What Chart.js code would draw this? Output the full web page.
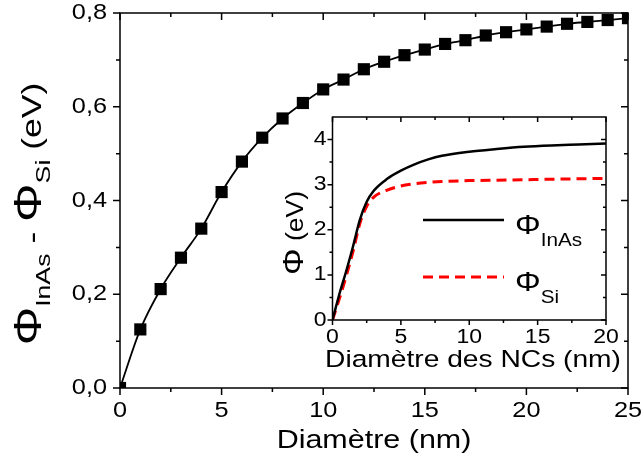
<!DOCTYPE html>
<html>
<head>
<meta charset="utf-8">
<script src="https://cdn.jsdelivr.net/npm/chart.js@4.4.0/dist/chart.umd.min.js"></script>
<style>
  body { margin: 0; background: #fff; }
  #wrap { position: relative; width: 642px; height: 474px; }
  canvas { position: absolute; }
</style>
</head>
<body>
<div id="wrap">
  <canvas id="main" width="642" height="474" style="left:0;top:0;width:642px;height:474px"></canvas>
  <canvas id="inset" width="366" height="280" style="left:260px;top:100px;width:366px;height:280px"></canvas>
</div>
<script>
// main plot: difference of work functions vs diameter
const diam = [0, 1, 2, 3, 4, 5, 6, 7, 8, 9, 10, 11, 12, 13, 14, 15, 16, 17, 18, 19, 20, 21, 22, 23, 24, 25];
const deltaPhi = [0, 0.125, 0.211, 0.278, 0.340, 0.418, 0.483, 0.534, 0.575, 0.608, 0.637, 0.658, 0.680, 0.696,
  0.710, 0.722, 0.734, 0.742, 0.752, 0.759, 0.765, 0.771, 0.777, 0.781, 0.785, 0.789];
const mainXTicks = [0, 5, 10, 15, 20, 25];
const mainXMinor = [2.5, 7.5, 12.5, 17.5, 22.5];
const mainYTicks = [0, 0.2, 0.4, 0.6, 0.8];
const mainYMinor = [0.1, 0.3, 0.5, 0.7];

// inset: both work functions vs NC diameter
const insetDiam = [0, 0.5, 1, 1.5, 2, 2.5, 3, 4, 5, 6, 7, 8, 10, 12, 14, 16, 18, 20];
const phiInAs = [0, 0.57, 1.08, 1.63, 2.22, 2.62, 2.86, 3.13, 3.31, 3.45, 3.56, 3.64, 3.73, 3.79, 3.84, 3.87, 3.89, 3.91];
const phiSi = [0, 0.47, 0.97, 1.52, 2.14, 2.52, 2.72, 2.88, 2.97, 3.02, 3.05, 3.07, 3.09, 3.10, 3.11, 3.12, 3.13, 3.14];
const insetXTicks = [0, 5, 10, 15, 20];
const insetXMinor = [2.5, 7.5, 12.5, 17.5];
const insetYTicks = [0, 1, 2, 3, 4];
const insetYMinor = [0.5, 1.5, 2.5, 3.5];

const SX = 1.15; // the original lettering is wider than plain Arial
const FONT = '"Liberation Sans", Arial, sans-serif';

// text made of pieces (for subscripts); stretched along the writing direction
function richText(ctx, parts, x, y, rot, align, stretch) {
  ctx.save();
  ctx.translate(x, y);
  if (rot) ctx.rotate(-Math.PI / 2);
  ctx.scale(stretch || SX, 1);
  ctx.fillStyle = '#000';
  ctx.textBaseline = 'alphabetic';
  ctx.textAlign = 'left';
  let w = 0;
  parts.forEach(p => { ctx.font = p.size + 'px ' + FONT; p.w = ctx.measureText(p.s).width; w += p.w; });
  let cx = align === 'left' ? 0 : align === 'right' ? -w : -w / 2;
  parts.forEach(p => { ctx.font = p.size + 'px ' + FONT; ctx.fillText(p.s, cx, p.dy || 0); cx += p.w; });
  ctx.restore();
}

function label(ctx, s, x, y, size, align) {
  ctx.save();
  ctx.translate(x, y);
  ctx.scale(SX, 1);
  ctx.font = size + 'px ' + FONT;
  ctx.fillStyle = '#000';
  ctx.textAlign = align;
  ctx.textBaseline = 'middle';
  ctx.fillText(s, 0, 0);
  ctx.restore();
}

// frame, ticks and texts: bottom/left ticks point out, top/right ticks point in
function axesPlugin(cfg) {
  return {
    id: 'axesFrame',
    afterDraw(chart) {
      const { ctx, chartArea: a, scales: { x, y } } = chart;
      ctx.save();
      ctx.strokeStyle = '#000';
      ctx.lineWidth = cfg.lw;
      ctx.strokeRect(a.left, a.top, a.right - a.left, a.bottom - a.top);
      ctx.beginPath();
      const tx = (v, len) => {
        const px = x.getPixelForValue(v);
        ctx.moveTo(px, a.bottom); ctx.lineTo(px, a.bottom + len);
        ctx.moveTo(px, a.top); ctx.lineTo(px, a.top + len);
      };
      const ty = (v, len) => {
        const py = y.getPixelForValue(v);
        ctx.moveTo(a.left, py); ctx.lineTo(a.left - len, py);
        ctx.moveTo(a.right, py); ctx.lineTo(a.right - len, py);
      };
      cfg.xTicks.forEach(v => tx(v, cfg.major));
      cfg.xMinor.forEach(v => tx(v, cfg.minor));
      cfg.yTicks.forEach(v => ty(v, cfg.major));
      cfg.yMinor.forEach(v => ty(v, cfg.minor));
      ctx.stroke();
      ctx.restore();

      cfg.xTicks.forEach(v => label(ctx, cfg.fmtX(v), x.getPixelForValue(v), a.bottom + cfg.xLabOff, cfg.tickSize, 'center'));
      cfg.yTicks.forEach(v => label(ctx, cfg.fmtY(v), a.left - cfg.yLabOff, y.getPixelForValue(v), cfg.tickSize, 'right'));
      if (cfg.extra) cfg.extra(ctx, chart);
    }
  };
}

const common = {
  responsive: false,
  animation: false,
  devicePixelRatio: 1,
  events: [],
  plugins: { legend: { display: false }, tooltip: { enabled: false } }
};

new Chart(document.getElementById('main'), {
  type: 'line',
  data: {
    datasets: [{
      data: diam.map((d, i) => ({ x: d, y: deltaPhi[i] })),
      borderColor: '#000',
      borderWidth: 1.8,
      pointStyle: 'rect',
      pointRadius: 8.6,
      pointBackgroundColor: '#000',
      pointBorderWidth: 0,
      cubicInterpolationMode: 'monotone',
      fill: false
    }]
  },
  options: {
    ...common,
    layout: { padding: { left: 120, top: 13, right: 14, bottom: 86 } },
    scales: {
      x: { type: 'linear', min: 0, max: 25, display: false },
      y: { type: 'linear', min: 0, max: 0.8, display: false }
    }
  },
  plugins: [axesPlugin({
    lw: 1.5, major: 7, minor: 4, tickSize: 22, xLabOff: 23, yLabOff: 13,
    xTicks: mainXTicks, xMinor: mainXMinor, yTicks: mainYTicks, yMinor: mainYMinor,
    fmtX: v => String(v), fmtY: v => v.toFixed(1).replace('.', ','),
    extra(ctx) {
      label(ctx, 'Diamètre (nm)', 374, 441, 26.5, 'center');
      richText(ctx, [
        { s: 'Φ', size: 38 }, { s: 'InAs', size: 21, dy: 9 }, { s: ' - ', size: 28 },
        { s: 'Φ', size: 38 }, { s: 'Si', size: 21, dy: 9 }, { s: ' (eV)', size: 28 }
      ], 41, 214, true, 'center', 1.27);
    }
  })]
});

new Chart(document.getElementById('inset'), {
  type: 'line',
  data: {
    datasets: [{
      data: insetDiam.map((d, i) => ({ x: d, y: phiInAs[i] })),
      borderColor: '#000',
      borderWidth: 2.5,
      pointRadius: 0,
      cubicInterpolationMode: 'monotone',
      fill: false
    }, {
      data: insetDiam.map((d, i) => ({ x: d, y: phiSi[i] })),
      borderColor: '#ff0000',
      borderWidth: 3,
      borderDash: [10, 6],
      pointRadius: 0,
      cubicInterpolationMode: 'monotone',
      fill: false
    }]
  },
  options: {
    ...common,
    layout: { padding: { left: 72.5, top: 17, right: 20, bottom: 60 } },
    scales: {
      x: { type: 'linear', min: 0, max: 20, display: false },
      y: { type: 'linear', min: 0, max: 4.5, display: false }
    }
  },
  plugins: [axesPlugin({
    lw: 1.5, major: 5, minor: 3, tickSize: 20, xLabOff: 17, yLabOff: 6,
    xTicks: insetXTicks, xMinor: insetXMinor, yTicks: insetYTicks, yMinor: insetYMinor,
    fmtX: v => String(v), fmtY: v => String(v),
    extra(ctx, chart) {
      label(ctx, 'Diamètre des NCs (nm)', 213, 260, 24.5, 'center');
      richText(ctx, [{ s: 'Φ', size: 29 }, { s: ' (eV)', size: 23 }], 43, 133, true, 'center', 1.15);
      // legend
      const ds = chart.data.datasets;
      ctx.save();
      ctx.lineWidth = ds[0].borderWidth; ctx.strokeStyle = ds[0].borderColor;
      ctx.beginPath(); ctx.moveTo(163, 120); ctx.lineTo(244, 120); ctx.stroke();
      ctx.lineWidth = ds[1].borderWidth; ctx.strokeStyle = ds[1].borderColor; ctx.setLineDash(ds[1].borderDash);
      ctx.beginPath(); ctx.moveTo(163, 177); ctx.lineTo(244, 177); ctx.stroke();
      ctx.restore();
      richText(ctx, [{ s: 'Φ', size: 28 }, { s: 'InAs', size: 18, dy: 12 }], 255, 134, false, 'left');
      richText(ctx, [{ s: 'Φ', size: 28 }, { s: 'Si', size: 18, dy: 12 }], 255, 191, false, 'left');
    }
  })]
});
</script>
</body>
</html>
